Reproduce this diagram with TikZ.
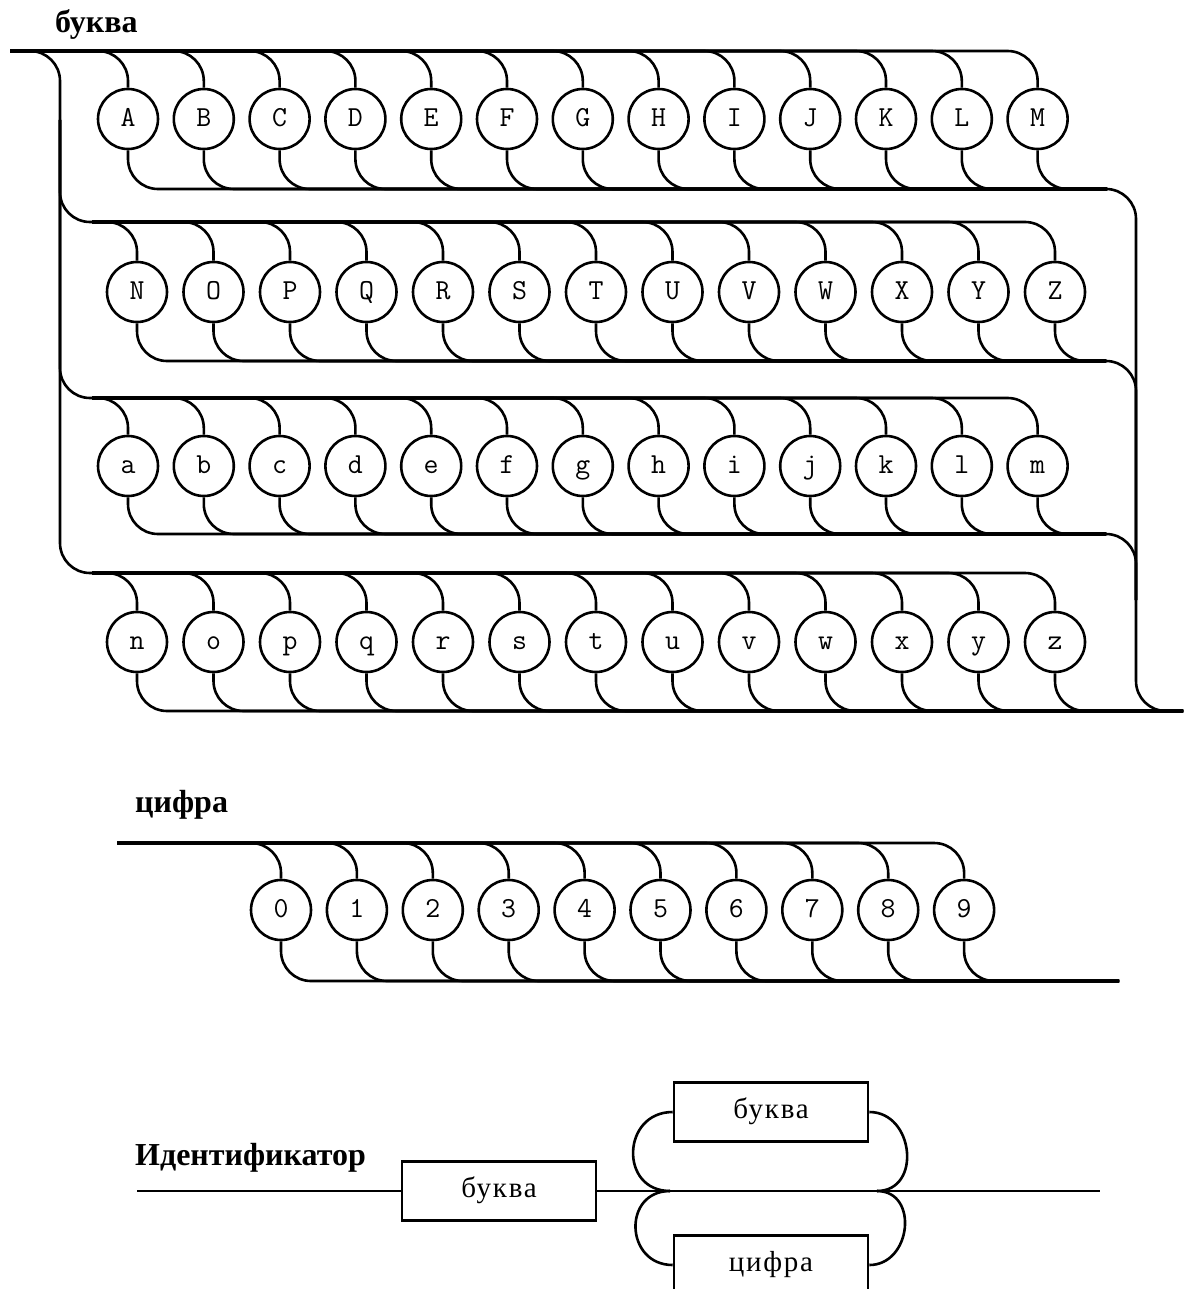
\documentclass[tikz,border=0pt]{standalone}
\usepackage{fontspec}
\setmainfont{Liberation Serif}
\newfontfamily\boxfont[LetterSpace=6]{Liberation Serif}
\usetikzlibrary{calc}

\tikzset{
  term/.style={circle,draw,line width=2.6pt,minimum size=60pt,inner sep=0pt,
    text height=15pt,text depth=0pt,font=\ttfamily\fontsize{29}{29}\selectfont},
  rule/.style={draw,line width=2.6pt,minimum width=194pt,minimum height=59pt,inner sep=0pt,
    text height=13.3pt,text depth=0pt,font=\boxfont\fontsize{29}{29}\selectfont},
  rail/.style={line width=2.6pt,rounded corners=30pt},
  title/.style={anchor=base west,inner sep=0pt,font=\bfseries\fontsize{32}{32}\selectfont}
}

\begin{document}
\begin{tikzpicture}[x=1pt,y=-1pt]
\useasboundingbox (0,0) rectangle (1188,1289);
\clip (0,0) rectangle (1188,1289);

% буква
\node[title] (t-letter) at (55,33) {буква};
\coordinate (in1) at (10,51);
\coordinate (lv) at (60,120);
\coordinate (lbot) at (60,573);
\coordinate (r2t) at (92,222);
\coordinate (r3t) at (92,398);
\coordinate (r4t) at (92,573);
\coordinate (r1b) at (1107,189);
\coordinate (r2b) at (1106,361);
\coordinate (r3b) at (1106,534);
\coordinate (rv) at (1136,600);
\coordinate (rbot) at (1136,711);
\coordinate (out1) at (1183,711);

\foreach \ch [count=\i from 0] in {A,...,M}{
  \node[term] (ch-\ch) at ({128+75.8*\i},119) {\ch};
  \draw[rail] (ch-\ch.north) |- (in1);
  \draw[rail] (ch-\ch.south) |- (r1b);
}
\foreach \ch [count=\i from 0] in {N,...,Z}{
  \node[term] (ch-\ch) at ({137+76.5*\i},292) {\ch};
  \draw[rail] (ch-\ch.north) |- (r2t);
  \draw[rail] (ch-\ch.south) |- (r2b);
}
\foreach \ch [count=\i from 0] in {a,...,m}{
  \node[term] (ch-\ch) at ({128+75.8*\i},466) {\ch};
  \draw[rail] (ch-\ch.north) |- (r3t);
  \draw[rail] (ch-\ch.south) |- (r3b);
}
\foreach \ch [count=\i from 0] in {n,...,z}{
  \node[term] (ch-\ch) at ({137+76.5*\i},642) {\ch};
  \draw[rail] (ch-\ch.north) |- (r4t);
  \draw[rail] (ch-\ch.south) |- (out1);
}
\draw[rail] (in1) -| (lbot) -- (r4t);
\draw[rail] (lv) |- (r2t);
\draw[rail] (lv) |- (r3t);
\draw[rail] (r1b) -| (rbot) -- (out1);
\draw[rail] (r2b) -| (rv);
\draw[rail] (r3b) -| (rv);

% цифра
\node[title] (t-digit) at (135,812) {цифра};
\coordinate (din) at (117,843);
\coordinate (dout) at (1119,981);
\foreach \d in {0,...,9}{
  \node[term] (dig-\d) at ({281+75.9*\d},910) {\d};
  \draw[rail] (dig-\d.north) |- (din);
  \draw[rail] (dig-\d.south) |- (dout);
}

% Идентификатор
\node[title] (t-ident) at (135,1165) {Идентификатор};
\coordinate (id-in) at (137,1191);
\coordinate (id-out) at (1100,1191);
\coordinate (jl) at (670,1191);
\coordinate (jr) at (877,1191);
\node[rule] (first) at (499,1191) {буква};
\node[rule] (loop-l) at (771,1112) {буква};
\node[rule] (loop-d) at (771,1265) {цифра};
\draw[rail] (id-in) -- (first);
\draw[rail] (first) -- (id-out);
\draw[rail] (loop-l.west) to[out=180,in=180,looseness=1.65] (jl);
\draw[rail] (loop-d.west) to[out=180,in=180,looseness=1.65] (jl);
\draw[rail] (loop-l.east) to[out=0,in=0,looseness=1.45] (jr);
\draw[rail] (loop-d.east) to[out=0,in=0,looseness=1.45] (jr);

\end{tikzpicture}
\end{document}
